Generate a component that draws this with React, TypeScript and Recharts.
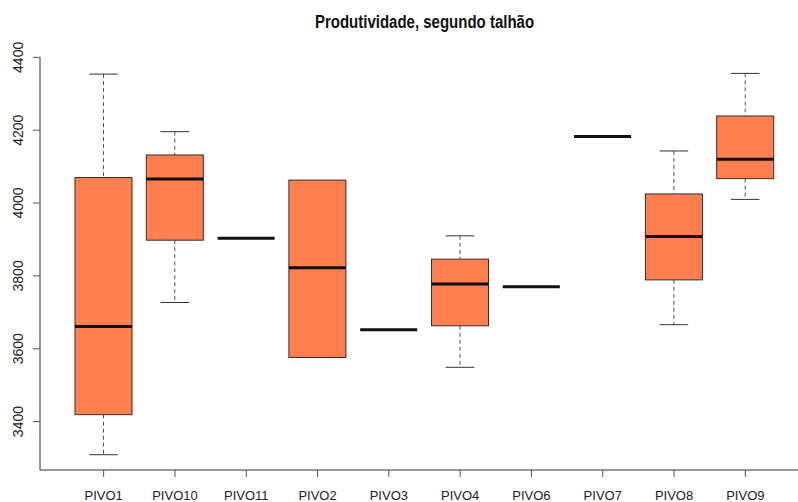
import { Bar, ComposedChart, XAxis, YAxis } from "recharts";

const talhoes = ["PIVO1", "PIVO10", "PIVO11", "PIVO2", "PIVO3", "PIVO4", "PIVO6", "PIVO7", "PIVO8", "PIVO9"];
const minimos = [3309, 3727, 3903, 3576, 3652, 3549, 3770, 4183, 3666, 4010];
const quartil1 = [3419, 3898, 3903, 3576, 3652, 3663, 3770, 4183, 3789, 4067];
const medianas = [3661, 4066, 3903, 3822, 3652, 3778, 3770, 4183, 3908, 4120];
const quartil3 = [4070, 4132, 3903, 4063, 3652, 3846, 3770, 4183, 4025, 4239];
const maximos = [4354, 4196, 3903, 4063, 3652, 3910, 3770, 4183, 4143, 4356];
const yTicks = [3400, 3600, 3800, 4000, 4200, 4400];
const yDomain = [3267, 4401];

const data = talhoes.map((nome, i) => ({
  nome,
  min: minimos[i],
  q1: quartil1[i],
  med: medianas[i],
  q3: quartil3[i],
  max: maximos[i],
  faixa: [minimos[i], maximos[i]],
}));

// the bar spans min..max, the rest is placed inside it
const BoxShape = (props: any) => {
  const { x, y, width, height, payload } = props;
  const top = Math.min(y, y + height);
  const span = Math.abs(height);
  const { min, q1, med, q3, max } = payload;
  const py = (v: number) => (max === min ? top : top + ((max - v) / (max - min)) * span);
  const cx = x + width / 2;
  const cap = width / 4;
  const single = max === min;
  return (
    <g>
      {!single && max > q3 && (
        <g>
          <line x1={cx} x2={cx} y1={py(max)} y2={py(q3)} stroke="#555" strokeDasharray="4 3" />
          <line x1={cx - cap} x2={cx + cap} y1={py(max)} y2={py(max)} stroke="#333" />
        </g>
      )}
      {!single && q1 > min && (
        <g>
          <line x1={cx} x2={cx} y1={py(q1)} y2={py(min)} stroke="#555" strokeDasharray="4 3" />
          <line x1={cx - cap} x2={cx + cap} y1={py(min)} y2={py(min)} stroke="#333" />
        </g>
      )}
      {!single && (
        <rect x={x} y={py(q3)} width={width} height={py(q1) - py(q3)} fill="#FF7F50" stroke="#3a2a24" />
      )}
      <line x1={x} x2={x + width} y1={py(med)} y2={py(med)} stroke="#111" strokeWidth={3} />
    </g>
  );
};

const YTick = (props: any) => {
  const { x, y, payload } = props;
  const tx = x - 13;
  return (
    <text
      x={tx}
      y={y}
      transform={`rotate(-90 ${tx} ${y})`}
      textAnchor="middle"
      dominantBaseline="central"
      fontSize={14}
      fill="#222"
    >
      {payload.value}
    </text>
  );
};

export default function App() {
  return (
    <div
      style={{
        position: "absolute",
        left: 0,
        top: 0,
        width: 798,
        height: 502,
        overflow: "hidden",
        background: "#fff",
        fontFamily: "'Liberation Sans', Arial, sans-serif",
      }}
    >
      <div
        style={{
          position: "absolute",
          left: 0,
          width: 849,
          top: 11,
          textAlign: "center",
          fontWeight: "bold",
          fontSize: 15,
          color: "#111",
          transform: "scaleY(1.23)",
          transformOrigin: "top",
        }}
      >
        Produtividade, segundo talhão
      </div>
      <div style={{ position: "absolute", left: 0, top: 0, width: 812, height: 502 }}>
        <ComposedChart
          width={812}
          height={502}
          data={data}
          margin={{ top: 57, right: 3, bottom: 0, left: 0 }}
        >
          <XAxis
            dataKey="nome"
            height={32}
            padding={{ left: 28, right: 28 }}
            tickSize={7}
            tickMargin={14}
            axisLine={{ stroke: "#333" }}
            tickLine={{ stroke: "#555" }}
            tick={{ fontSize: 13, fill: "#222" }}
            interval={0}
          />
          <XAxis
            xAxisId="top"
            orientation="top"
            dataKey="nome"
            height={0}
            padding={{ left: 28, right: 28 }}
            tick={false}
            tickLine={false}
            axisLine={{ stroke: "#333" }}
          />
          <YAxis
            width={40}
            domain={yDomain}
            ticks={yTicks}
            type="number"
            allowDataOverflow
            tickSize={7}
            tickMargin={2}
            axisLine={{ stroke: "#333" }}
            tickLine={{ stroke: "#555" }}
            tick={<YTick />}
          />
          <Bar dataKey="faixa" barSize={57} shape={<BoxShape />} isAnimationActive={false} />
        </ComposedChart>
      </div>
    </div>
  );
}
